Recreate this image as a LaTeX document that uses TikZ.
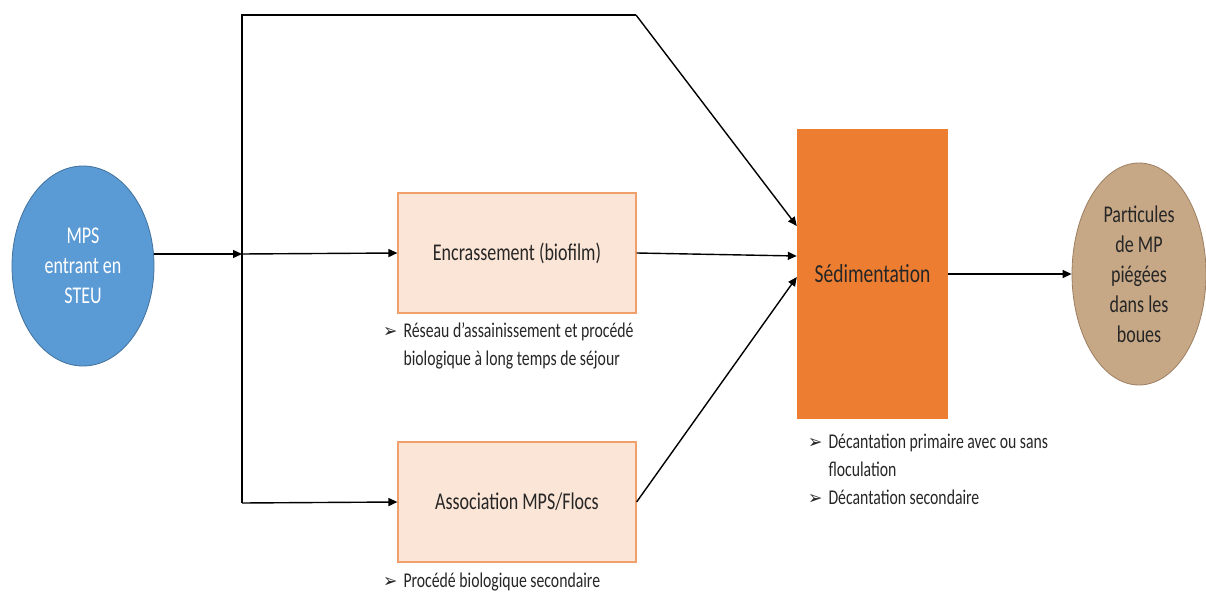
\documentclass[tikz,border=0pt]{standalone}
\usepackage{fontspec}
\setmainfont[FakeStretch=0.75]{Carlito}
\newfontfamily\symfont[FakeStretch=0.9]{DejaVu Sans}
\usetikzlibrary{arrows.meta,shapes.geometric}

\definecolor{bleu}{HTML}{5B9BD5}
\definecolor{bleufonce}{HTML}{41719C}
\definecolor{peche}{HTML}{FBE5D6}
\definecolor{orangeb}{HTML}{F0A06A}
\definecolor{orangef}{HTML}{ED7D31}
\definecolor{brun}{HTML}{C7A886}
\definecolor{brunfonce}{HTML}{9C7F62}
\definecolor{texte}{HTML}{262626}

\newcommand{\puce}{{\symfont\fontsize{19}{19}\selectfont ➢}}

\begin{document}
\begin{tikzpicture}[
  x=1pt, y=-1pt,
  font=\fontsize{24}{30}\selectfont,
  flux/.style={-{Triangle[length=9pt,width=8pt]},line width=1.4pt,black},
  trait/.style={line width=1.4pt,black},
  etape/.style={rectangle,draw=orangeb,line width=1.2pt,fill=peche,
    minimum width=238pt,minimum height=120pt,text=texte},
  note/.style={align=left,text=texte,inner sep=0pt,font=\fontsize{21}{28}\selectfont},
]
\useasboundingbox (0,0) rectangle (1206,593);

% ---------- entree et sortie ----------
\node[ellipse,draw=bleufonce,line width=0.8pt,fill=bleu,text=white,align=center,
  minimum width=142pt,minimum height=200pt,inner sep=0pt] (entree) at (83,266)
  {MPS\\entrant en\\STEU};
\node[ellipse,draw=brunfonce,line width=0.8pt,fill=brun,text=texte,align=center,
  minimum width=134pt,minimum height=222pt,inner sep=0pt] (boues) at (1139,274)
  {Particules\\de MP\\piégées\\dans les\\boues};

% ---------- mecanismes ----------
\node[etape] (encr) at (517,253) {Encrassement (biofilm)};
\node[etape] (asso) at (517,502) {Association MPS/Flocs};
\node[rectangle,fill=orangef,minimum width=151pt,minimum height=289pt,
  text=texte,font=\fontsize{26}{30}\selectfont] (sedi) at (872.5,274) {Sédimentation};

% ---------- branchements ----------
\coordinate (jonc) at (242,254);
\coordinate (hautg) at (242,15);
\coordinate (hautd) at (636,15);
\coordinate (basg) at (242,503);

\draw[flux] (entree.east |- jonc) -- (jonc);
\draw[flux] (jonc) -- (encr.west);
\draw[flux] (basg) -- (asso.west);
\draw[trait] (basg) -- (hautg) -- (hautd);
\draw[flux] (hautd) -- ([yshift=48pt]sedi.west);
\draw[flux] (encr.east) -- ([yshift=18pt]sedi.west);
\draw[flux] (asso.east) -- ([yshift=-3pt]sedi.west);
\draw[flux] (sedi.east) -- (boues.west);

% ---------- notes ----------
\node[note,anchor=north west] (note1) at (383,318)
  {\begin{tabular}{@{}l@{\hspace{6pt}}l@{}}
   \puce & Réseau d’assainissement et procédé\\
         & biologique à long temps de séjour
   \end{tabular}};
\node[note,anchor=north west] (note2) at (383,568)
  {\begin{tabular}{@{}l@{\hspace{6pt}}l@{}}
   \puce & Procédé biologique secondaire
   \end{tabular}};
\node[note,anchor=north west] (note3) at (808,429)
  {\begin{tabular}{@{}l@{\hspace{6pt}}l@{}}
   \puce & Décantation primaire avec ou sans\\
         & floculation\\
   \puce & Décantation secondaire
   \end{tabular}};

\end{tikzpicture}
\end{document}
